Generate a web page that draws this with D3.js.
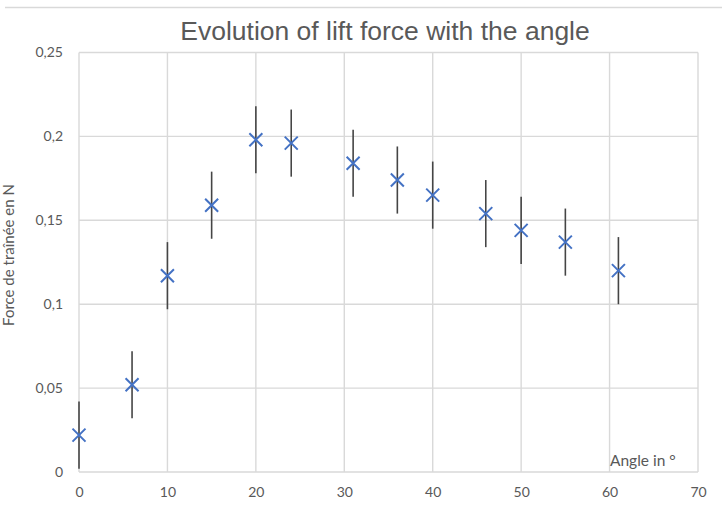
<!DOCTYPE html>
<html>
<head>
<meta charset="utf-8">
<script src="https://cdn.jsdelivr.net/npm/d3@7"></script>
<style>
  body { margin: 0; background: #fff; }
  .chart { width: 722px; height: 509px; }
  text { fill: #595959; }
</style>
</head>
<body>
<div class="chart"></div>
<script>
// angles (°) and measured lift force (N), error = ±0.02
const angles = [0, 6, 10, 15, 20, 24, 31, 36, 40, 46, 50, 55, 61];
const forces = [0.022, 0.052, 0.117, 0.159, 0.198, 0.196, 0.184, 0.174, 0.165, 0.154, 0.144, 0.137, 0.120];
const errors = [0.02, 0.02, 0.02, 0.02, 0.02, 0.02, 0.02, 0.02, 0.02, 0.02, 0.02, 0.02, 0.02];
const xTicks = [0, 10, 20, 30, 40, 50, 60, 70];
const yTicks = [0, 0.05, 0.1, 0.15, 0.2, 0.25];

const title = 'Evolution of lift force with the angle';
const xTitle = 'Angle in °';
const yTitle = 'Force de traînée en N';

const width = 722, height = 509;
const margin = { top: 52.5, right: 24, bottom: 37, left: 79 };

const data = angles.map((a, i) => ({ angle: a, force: forces[i], err: errors[i] }));

const svg = d3.select('.chart')
    .append('svg')
    .attr('width', width)
    .attr('height', height);

const x = d3.scaleLinear()
    .domain([0, 70])
    .range([margin.left, width - margin.right]);
const y = d3.scaleLinear()
    .domain([0, 0.25])
    .range([height - margin.bottom, margin.top]);

const fmt = d => d3.format('~g')(d).replace('.', ',');

// chart border line on top
svg.append('line')
    .attr('x1', 5).attr('x2', width)
    .attr('y1', 7.5).attr('y2', 7.5)
    .style('stroke', '#d9d9d9')
    .style('stroke-width', 1.5);

// grid
const grid = svg.append('g').attr('class', 'grid');
grid.selectAll('.hgrid')
    .data(yTicks)
    .enter()
    .append('line')
    .attr('x1', x(0)).attr('x2', x(70))
    .attr('y1', d => y(d)).attr('y2', d => y(d))
    .style('stroke', '#d9d9d9')
    .style('stroke-width', 1.4);
grid.selectAll('.vgrid')
    .data(xTicks)
    .enter()
    .append('line')
    .attr('x1', d => x(d)).attr('x2', d => x(d))
    .attr('y1', y(0)).attr('y2', y(0.25))
    .style('stroke', '#d9d9d9')
    .style('stroke-width', 1.4);

// axes (labels only, lines are drawn by grid)
const xaxis = svg.append('g')
    .attr('class', 'xaxis')
    .attr('transform', `translate(0, ${y(0)})`)
    .call(d3.axisBottom(x).tickValues(xTicks).tickSize(0).tickPadding(15).tickFormat(d3.format('d')));
const yaxis = svg.append('g')
    .attr('class', 'yaxis')
    .attr('transform', `translate(${x(0)}, 0)`)
    .call(d3.axisLeft(y).tickValues(yTicks).tickSize(0).tickPadding(16).tickFormat(fmt));
[xaxis, yaxis].forEach(a => {
    a.select('.domain').remove();
    a.selectAll('text')
        .style('font-family', 'Lato, "Open Sans", sans-serif')
        .style('font-size', '14px')
        .style('fill', '#595959');
});

// error bars
svg.append('g').attr('class', 'errors')
    .selectAll('line')
    .data(data)
    .enter()
    .append('line')
    .attr('x1', d => x(d.angle)).attr('x2', d => x(d.angle))
    .attr('y1', d => y(Math.max(0, d.force - d.err)))
    .attr('y2', d => y(d.force + d.err))
    .style('stroke', '#454545')
    .style('stroke-width', 1.6);

// cross markers
const s = 6.5;
svg.append('g').attr('class', 'marks')
    .selectAll('path')
    .data(data)
    .enter()
    .append('path')
    .attr('d', d => {
        const cx = x(d.angle), cy = y(d.force);
        return `M${cx - s},${cy - s}L${cx + s},${cy + s}M${cx - s},${cy + s}L${cx + s},${cy - s}`;
    })
    .style('stroke', '#4472c4')
    .style('stroke-width', 2)
    .style('fill', 'none');

// titles
svg.append('text')
    .attr('x', 385)
    .attr('y', 40)
    .attr('text-anchor', 'middle')
    .style('font-family', '"Liberation Sans", Arial, sans-serif')
    .style('font-size', '26.5px')
    .text(title);

svg.append('text')
    .attr('x', 610)
    .attr('y', 466)
    .style('font-family', 'Lato, "Open Sans", sans-serif')
    .style('font-size', '15.5px')
    .text(xTitle);

// y title: the reference cuts it at the left edge, kept fully visible here
svg.append('text')
    .attr('transform', 'translate(14, 255) rotate(-90)')
    .attr('text-anchor', 'middle')
    .style('font-family', 'Lato, "Open Sans", sans-serif')
    .style('font-size', '15px')
    .text(yTitle);
</script>
</body>
</html>
